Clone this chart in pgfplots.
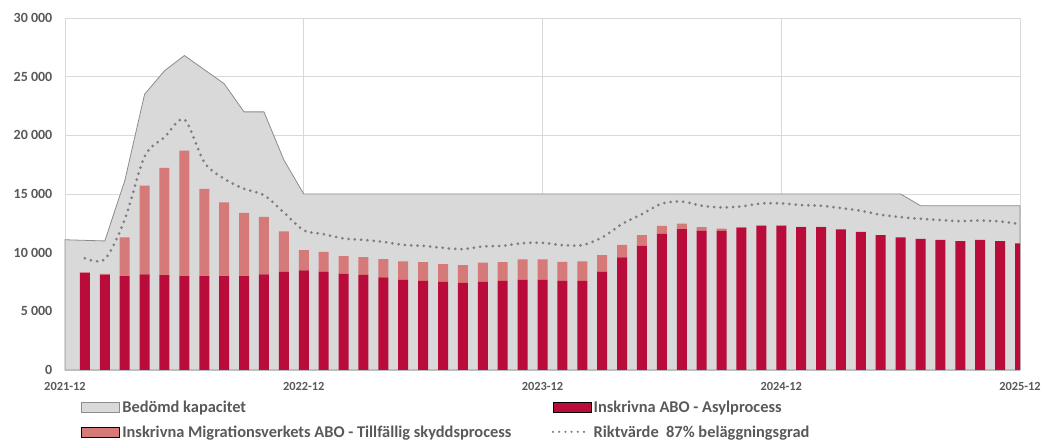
\documentclass[border=0pt]{standalone}
\usepackage{pgfplots}
\pgfplotsset{compat=1.18}
\usepackage{pgfplotstable}
\usepackage{fontspec}
\setmainfont{Carlito}
\definecolor{asyl}{HTML}{BA0C3A}
\definecolor{tillf}{HTML}{D57979}
\definecolor{kap}{HTML}{D9D9D9}
\definecolor{kapline}{HTML}{8C8C8C}
\definecolor{txt}{HTML}{595959}
\definecolor{gridc}{HTML}{D9D9D9}
\definecolor{dotc}{HTML}{7F7F7F}

\pgfplotstableread{
m kap
0 11100
1 11050
2 11000
3 16100
4 23500
5 25500
6 26800
7 25600
8 24400
9 22000
10 22000
11 17900
12 15000
13 15000
14 15000
15 15000
16 15000
17 15000
18 15000
19 15000
20 15000
21 15000
22 15000
23 15000
24 15000
25 15000
26 15000
27 15000
28 15000
29 15000
30 15000
31 15000
32 15000
33 15000
34 15000
35 15000
36 15000
37 15000
38 15000
39 15000
40 15000
41 15000
42 15000
43 14000
44 14000
45 14000
46 14000
47 14000
48 14000
}\kapdata

\pgfplotstableread{
m asyl tillf
1 8270 50
2 8100 100
3 7990 3310
4 8160 7550
5 8080 9140
6 7990 10710
7 7990 7440
8 7990 6300
9 7990 5410
10 8160 4900
11 8360 3450
12 8500 1720
13 8390 1680
14 8190 1510
15 8100 1520
16 7900 1540
17 7680 1570
18 7590 1600
19 7500 1520
20 7420 1510
21 7500 1660
22 7590 1600
23 7680 1740
24 7680 1740
25 7590 1630
26 7590 1660
27 8390 1400
28 9590 1080
29 10580 920
30 11600 680
31 12000 480
32 11880 290
33 11860 180
34 12120 60
35 12290 30
36 12290 30
37 12180 20
38 12180 20
39 11980 0
40 11780 0
41 11500 0
42 11300 0
43 11180 0
44 11100 0
45 10980 0
46 11100 0
47 10980 0
48 10790 0
}\bardata

\pgfplotstableread{
m rikt
1 9530
2 9440
3 12800
4 18200
5 19840
6 21350
7 17700
8 16300
9 15450
10 14900
11 13430
12 11900
13 11580
14 11210
15 11090
16 10920
17 10670
18 10580
19 10410
20 10300
21 10530
22 10580
23 10810
24 10840
25 10640
26 10640
27 11300
28 12440
29 13290
30 14180
31 14360
32 14000
33 13860
34 13940
35 14200
36 14200
37 14060
38 14000
39 13800
40 13570
41 13230
42 13030
43 12890
44 12780
45 12690
46 12740
47 12660
48 12440
}\riktdata

\pgfplotsset{
  base/.style={at={(65bp,71bp)}, anchor=south west, scale only axis,
    width=955bp, height=352bp, xmin=0, xmax=48, ymin=0, ymax=30000, clip=false},
  swatch/.style={legend image code/.code={\draw[##1] (0bp,-3.7bp) rectangle (38bp,6.3bp);}},
  dotswatch/.style={legend image code/.code={\draw[##1] (0bp,1.5bp) -- (34bp,1.5bp);}},
}

\begin{document}
\begin{tikzpicture}
\path[use as bounding box] (0,0) rectangle (1043bp,441bp);
% axis 1: grid, ticks, capacity area
\begin{axis}[base,
  axis line style={draw=none},
  xtick={0,12,24,36,48},
  xticklabels={2021-12,2022-12,2023-12,2024-12,2025-12},
  ytick={0,5000,10000,15000,20000,25000,30000},
  yticklabels={0,5 000,10 000,15 000,20 000,25 000,30 000},
  scaled y ticks=false,
  xmajorgrids, ymajorgrids,
  major grid style={draw=gridc, line width=0.9bp},
  xtick style={draw=none}, ytick style={draw=none},
  yticklabel style={inner sep=0pt, anchor=east, xshift=-12.5bp, text=txt,
    font=\fontsize{14bp}{16bp}\selectfont\bfseries},
  xticklabel style={inner sep=0pt, anchor=north, yshift=-12.5bp, text=txt,
    font=\fontsize{12.4bp}{15bp}\selectfont\bfseries},
]
\addplot[fill=kap, draw=kapline, line width=0.8bp] table[x=m, y=kap]{\kapdata} \closedcycle;
\end{axis}
% axis 2: stacked bars
\begin{axis}[base, clip=true, hide axis, ybar stacked, bar width=10bp]
\addplot[fill=asyl, draw=none] table[x=m, y=asyl]{\bardata};
\addplot[fill=tillf, draw=none] table[x=m, y=tillf]{\bardata};
\end{axis}
% axis 3: dotted line and legend
\begin{axis}[base, hide axis,
  legend columns=2,
  legend cell align=left,
  legend style={at={(0.01675,-0.0861)}, anchor=north west, draw=none, fill=none,
    inner sep=0pt, outer sep=0pt, row sep=9bp, text=txt,
    font=\fontsize{16.4bp}{19bp}\selectfont\bfseries,
    nodes={inner sep=0pt, text height=12bp, text depth=4bp},
    /tikz/every odd column/.append style={column sep=2.5bp},
    /tikz/every even column/.append style={column sep=33.5bp}},
]
\addlegendimage{swatch, fill=kap, draw=kapline, line width=0.8bp}
\addlegendentry{\makebox[396bp][l]{Bedömd kapacitet}}
\addlegendimage{swatch, fill=asyl, draw=none}
\addlegendentry{Inskrivna ABO - Asylprocess}
\addlegendimage{swatch, fill=tillf, draw=none}
\addlegendentry{\makebox[396bp][l]{Inskrivna Migrationsverkets ABO - Tillfällig skyddsprocess}}
\addlegendimage{dotswatch, draw=dotc, line width=2.4bp, dash pattern=on 0pt off 6.2bp, line cap=round}
\addlegendentry{Riktvärde\ \ 87\% beläggningsgrad}
\addplot[forget plot, draw=dotc, line width=3bp, dash pattern=on 0pt off 6.3bp, line cap=round, smooth, tension=0.5]
  table[x=m, y=rikt]{\riktdata};
\end{axis}
\end{tikzpicture}
\end{document}
